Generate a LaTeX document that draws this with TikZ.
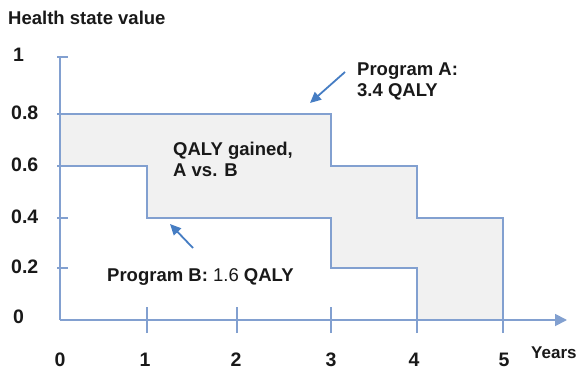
\documentclass[tikz,border=0pt]{standalone}
\usepackage{fontspec}
\setmainfont{Liberation Sans}
\usetikzlibrary{arrows.meta}
\definecolor{axisblue}{RGB}{130,160,208}
\definecolor{arrowblue}{RGB}{70,125,195}
\definecolor{gainfill}{RGB}{241,241,241}
\definecolor{labelgray}{RGB}{25,25,25}

\begin{document}
\begin{tikzpicture}[x=1pt,y=-1pt,
  stepline/.style={draw=axisblue, line width=1.8pt},
  axisline/.style={draw=axisblue, line width=1.8pt},
  tickmark/.style={draw=axisblue, line width=1.5pt},
  pointer/.style={draw=arrowblue, line width=1.8pt, -{Triangle[length=11pt,width=10pt]}},
  lbl/.style={inner sep=0pt, text=labelgray, font=\fontsize{18.5}{21}\selectfont\bfseries, align=left},
  ylbl/.style={inner sep=0pt, text=labelgray, font=\fontsize{19.5}{21}\selectfont\bfseries, anchor=base west},
  xlbl/.style={inner sep=0pt, text=labelgray, font=\fontsize{19.5}{21}\selectfont\bfseries, anchor=base},
]
\useasboundingbox (0,0) rectangle (580,371);

% year positions along the time axis
\coordinate (o)  at (60,320);
\coordinate (t1) at (147,320);
\coordinate (t2) at (237,320);
\coordinate (t3) at (331,320);
\coordinate (t4) at (417,320);
\coordinate (t5) at (503,320);
\coordinate (xend) at (567,320);
\coordinate (ytop) at (60,57);

% area between the two programs: QALY gained
\fill[gainfill] (60,114) -| (331,166) -| (417,218) -| (503,320) -- (417,320)
  |- (331,268) |- (147,218) |- (60,166) -- cycle;

% axes
\draw[axisline] (ytop) -- (o);
\draw[axisline, -{Triangle[length=12pt,width=12pt]}] (o) -- (xend);

% ticks on the value axis
\foreach \y in {57,114,166,218,268}
  \draw[tickmark] (57,\y) -- (68,\y);
% ticks on the time axis
\foreach \t in {t1,t2,t3,t4,t5}
  \draw[tickmark] ([yshift=-13pt]\t) -- ([yshift=13pt]\t);

% Program A and Program B health state profiles
\draw[stepline] (60,114) -| (331,166) -| (417,218) -| (t5);
\draw[stepline] (60,166) -| (147,218) -| (331,268) -| (t4);

% labels
\node[lbl, anchor=base west] (title) at (8,25) {Health state value};

\node[ylbl] (v10) at (13,62)    {1};
\node[ylbl] (v08) at (11,119.5) {0.8};
\node[ylbl] (v06) at (11,171.5) {0.6};
\node[ylbl] (v04) at (11,223)   {0.4};
\node[ylbl] (v02) at (11,273)   {0.2};
\node[ylbl] (v00) at (13,323)   {0};

\node[xlbl] (y0) at (60,366)  {0};
\node[xlbl] (y1) at (145,366) {1};
\node[xlbl] (y2) at (236,366) {2};
\node[xlbl] (y3) at (331,366) {3};
\node[xlbl] (y4) at (414,366) {4};
\node[xlbl] (y5) at (504,366) {5};
\node[lbl, anchor=base west, font=\fontsize{17}{21}\selectfont\bfseries] (years) at (531,358) {Years};

\node[lbl, anchor=north west] (progA) at (357,63) {Program A:\\3.4 QALY};
\node[lbl, anchor=north west] (gain) at (173,141.5) {QALY gained,\\A vs. B};
\node[lbl, anchor=base west] (progB) at (107,281.7) {Program B: {\mdseries 1.6} QALY};

% pointers to the profiles
\coordinate (pAfrom) at (345,72);
\coordinate (pAto)   at (310,103);
\coordinate (pBfrom) at (193,248);
\coordinate (pBto)   at (170,224);
\draw[pointer] (pAfrom) -- (pAto);
\draw[pointer] (pBfrom) -- (pBto);
\end{tikzpicture}
\end{document}
